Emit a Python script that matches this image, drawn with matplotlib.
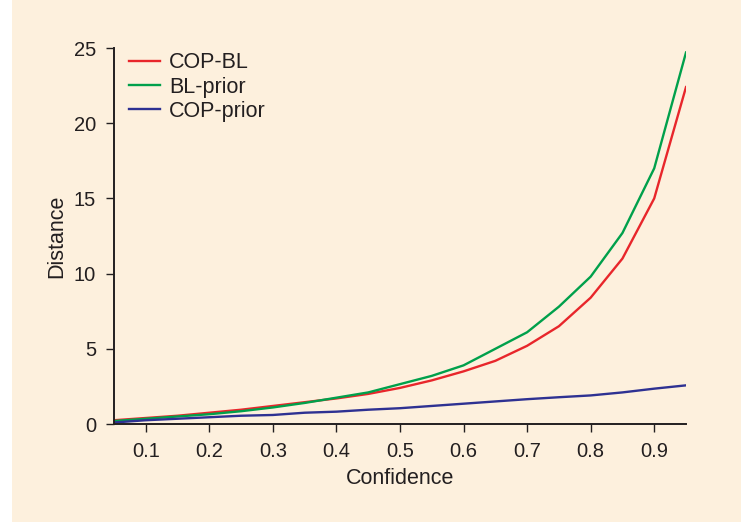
import matplotlib
matplotlib.use("Agg")
import matplotlib.pyplot as plt
from matplotlib.patches import Rectangle
import numpy as np

# data
confidence = [0.05, 0.10, 0.15, 0.20, 0.25, 0.30, 0.35, 0.40, 0.45, 0.50,
              0.55, 0.60, 0.65, 0.70, 0.75, 0.80, 0.85, 0.90, 0.95]
cop_bl = [0.25, 0.40, 0.55, 0.75, 0.95, 1.2, 1.45, 1.7, 2.0, 2.4,
          2.9, 3.5, 4.2, 5.2, 6.5, 8.4, 11.0, 15.0, 22.4]
bl_prior = [0.2, 0.35, 0.5, 0.65, 0.85, 1.1, 1.4, 1.75, 2.1, 2.65,
            3.2, 3.9, 5.0, 6.1, 7.8, 9.8, 12.7, 17.0, 24.7]
cop_prior = [0.1, 0.25, 0.35, 0.45, 0.55, 0.6, 0.75, 0.82, 0.95, 1.05,
             1.2, 1.35, 1.5, 1.65, 1.78, 1.9, 2.1, 2.35, 2.57]

xticks = [0.1, 0.2, 0.3, 0.4, 0.5, 0.6, 0.7, 0.8, 0.9]
yticks = [0, 5, 10, 15, 20, 25]

bg = "#FDF0DD"
ink = "#231F20"
plt.rcParams["font.family"] = ["Liberation Sans", "DejaVu Sans"]

fig = plt.figure(figsize=(7.41, 5.22), dpi=100)
fig.patch.set_facecolor("white")
fig.add_artist(Rectangle((12 / 741, 0), 1, 1, transform=fig.transFigure,
                         facecolor=bg, edgecolor="none", zorder=-10))

ax = fig.add_axes([114 / 741, 98 / 522, 572 / 741, 376 / 522])
ax.set_facecolor("none")

ax.plot(confidence, cop_bl, color="#E8262B", lw=1.7, label="COP-BL")
ax.plot(confidence, bl_prior, color="#00A04B", lw=1.7, label="BL-prior")
ax.plot(confidence, cop_prior, color="#2E3192", lw=1.7, label="COP-prior")

ax.set_xlim(0.05, 0.95)
ax.set_ylim(0, 25)
ax.set_xticks(xticks, [f"{t:.1f}" for t in xticks])
ax.set_yticks(yticks, [str(t) for t in yticks])

for s in ["top", "right"]:
    ax.spines[s].set_visible(False)
for s in ["left", "bottom"]:
    ax.spines[s].set_color(ink)
    ax.spines[s].set_linewidth(1.4)
ax.tick_params(direction="out", length=6, width=1, color=ink,
               labelsize=14.5, labelcolor=ink, pad=7)

ax.set_xlabel("Confidence", fontsize=15.5, color=ink, labelpad=5)
ax.set_ylabel("Distance", fontsize=15.5, color=ink, labelpad=5)

leg = ax.legend(loc="upper left", frameon=False, fontsize=15.5,
                handlelength=1.4, handletextpad=0.45, labelspacing=0.15,
                bbox_to_anchor=(-0.007, 1.04), borderaxespad=0.5)
for t in leg.get_texts():
    t.set_color(ink)

fig.savefig("out.png", dpi=100)
